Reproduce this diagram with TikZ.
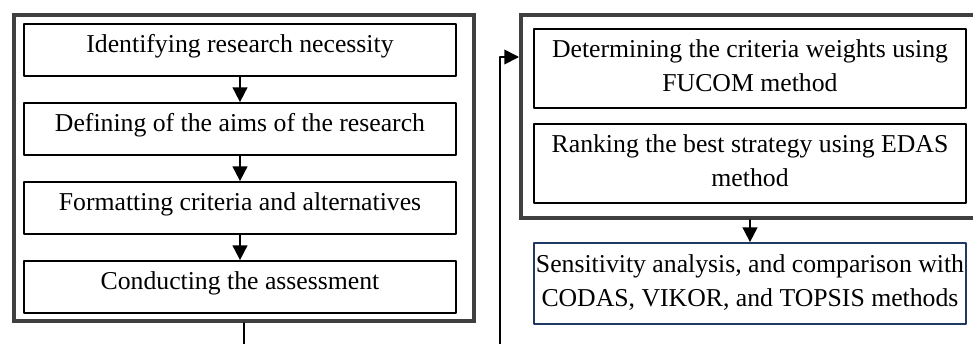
\documentclass[tikz,border=0pt]{standalone}
\usepackage{fontspec}
\setmainfont{Liberation Serif}
\usetikzlibrary{arrows.meta}
\definecolor{navyline}{RGB}{32,56,100}
\definecolor{framegray}{RGB}{64,64,64}

\begin{document}
\begin{tikzpicture}[x=0.75pt, y=-0.75pt, line cap=round, line join=round]
  \def\lx{240} % left column centre
  \def\rx{750} % right column centre
  \tikzset{
    step_box/.style={draw=black, line width=1.3pt, inner sep=0pt, text width=324pt, align=flush center,
      font=\fontsize{19.3pt}{25.5pt}\selectfont},
    one_line/.style={step_box, text height=21pt, text depth=18pt},
    two_line/.style={step_box, text height=21pt, text depth=38.25pt},
    result_box/.style={step_box, draw=navyline, text height=21.75pt, text depth=39pt},
    frame_box/.style={draw=framegray, line width=3pt, line join=miter, inner sep=0pt},
    flow_arrow/.style={line width=1.3pt, -{Triangle[length=11pt, width=11pt]}, draw=black}
  }

  \clip (0,0) rectangle (973,343);

  % left frame
  \node[frame_box, minimum width=345pt, minimum height=229.5pt] (leftframe) at (244,168) {};
  \node[one_line] (need) at (\lx,50) {Identifying research necessity};
  \node[one_line] (aims) at (\lx,129) {Defining of the aims of the research};
  \node[one_line] (crit) at (\lx,208) {Formatting criteria and alternatives};
  \node[one_line] (assess) at (\lx,287) {Conducting the assessment};
  \draw[flow_arrow] (need) -- (aims);
  \draw[flow_arrow] (aims) -- (crit);
  \draw[flow_arrow] (crit) -- (assess);

  % right frame
  \node[frame_box, minimum width=345.75pt, minimum height=152.25pt] (rightframe) at (751.5,116.5) {};
  \node[two_line] (fucom) at (\rx,68.5) {Determining the criteria weights using\\FUCOM method};
  \node[two_line] (edas) at (\rx,163.5) {Ranking the best strategy using EDAS\\method};
  \node[result_box] (sens) at (\rx,283.5) {Sensitivity analysis, and comparison with\\CODAS, VIKOR, and TOPSIS methods};
  \draw[flow_arrow] (sens.north |- rightframe.south) -- (sens.north);

  % link between the frames
  \coordinate (turn) at (500,57);
  \draw[flow_arrow] (leftframe.south) -- ++(0,40) -| (turn) -- (turn -| rightframe.west);

\end{tikzpicture}
\end{document}
